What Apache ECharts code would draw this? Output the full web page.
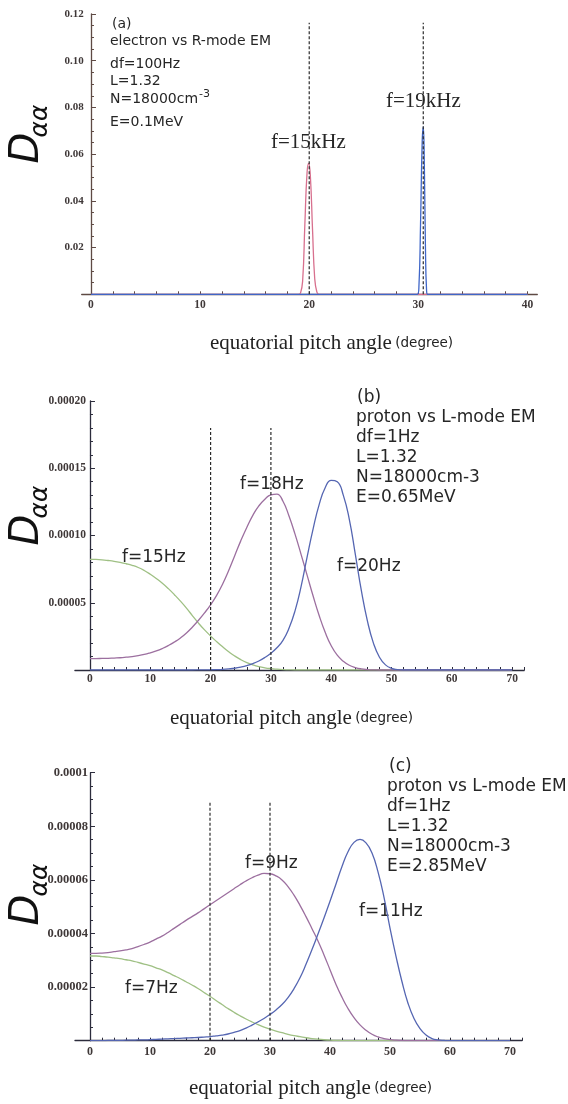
<!DOCTYPE html>
<html>
<head>
<meta charset="utf-8">
<title>D_aa vs equatorial pitch angle</title>
<script src="https://cdn.jsdelivr.net/npm/echarts@6/dist/echarts.min.js"></script>
<style>
  html, body { margin: 0; padding: 0; background: #ffffff; }
  #chart { width: 568px; height: 1104px; }
</style>
</head>
<body>
<div id="chart"></div>
<script>
// ---- panel (a): electron vs R-mode EM, two narrow peaks ----
const aX15k = [0, 19.0, 19.2, 19.4, 19.6, 19.8, 19.95, 20.1, 20.3, 20.5, 20.7, 20.9, 40]
const aY15k = [0, 0, 0.0005, 0.006, 0.030, 0.052, 0.056, 0.051, 0.028, 0.007, 0.001, 0, 0]
const aX19k = [0, 29.9, 30.05, 30.2, 30.35, 30.45, 30.55, 30.65, 30.75, 30.85, 40]
const aY19k = [0, 0, 0.003, 0.030, 0.065, 0.0717, 0.055, 0.020, 0.002, 0, 0]
const aMarks = [20.0, 30.45]
const aMarkTop = 0.1163
const aXLabels = [0, 10, 20, 30, 40]

// ---- panel (b): proton vs L-mode EM, E=0.65MeV ----
const bX = [0, 1, 2, 3, 4, 5, 6, 7, 8, 9, 10, 11, 12, 13, 14, 15, 16, 17, 18, 19, 20,
  21, 22, 23, 24, 25, 26, 27, 28, 29, 30, 31, 32, 33, 34, 35, 36, 37, 38, 39, 40,
  41, 42, 43, 44, 45, 46, 47, 48, 49, 50, 51, 52, 53, 54, 55, 60, 65, 70]
const b15 = [82.3e-6, 82.2e-6, 81.9e-6, 81.4e-6, 80.8e-6, 80.0e-6, 79.0e-6, 77.8e-6, 76.2e-6, 74.0e-6,
  71.2e-6, 68.0e-6, 64.5e-6, 60.5e-6, 56.0e-6, 51.2e-6, 46.0e-6, 40.3e-6, 34.8e-6, 29.8e-6,
  25.3e-6, 21.1e-6, 17.2e-6, 13.6e-6, 10.4e-6, 7.7e-6, 5.5e-6, 3.8e-6, 2.5e-6, 1.6e-6,
  1.0e-6, 0.6e-6, 0.3e-6, 0.1e-6, 0, 0, 0, 0, 0, 0,
  0, 0, 0, 0, 0, 0, 0, 0, 0, 0, 0, 0, 0, 0, 0, 0, 0, 0, 0]
const b18 = [8.5e-6, 8.5e-6, 8.6e-6, 8.7e-6, 8.9e-6, 9.1e-6, 9.5e-6, 10.0e-6, 10.7e-6, 11.6e-6,
  12.8e-6, 14.2e-6, 16.0e-6, 18.2e-6, 20.8e-6, 23.8e-6, 27.5e-6, 32.0e-6, 37.0e-6, 42.5e-6,
  48.5e-6, 55.5e-6, 64.0e-6, 74.0e-6, 85.0e-6, 96.0e-6, 106.0e-6, 115.0e-6, 122.0e-6, 127.0e-6,
  130.2e-6, 130.8e-6, 125.5e-6, 114.5e-6, 101.0e-6, 86.0e-6, 70.5e-6, 55.0e-6, 40.5e-6, 28.0e-6,
  18.0e-6, 11.0e-6, 6.5e-6, 3.5e-6, 1.8e-6, 0.8e-6, 0.3e-6, 0.1e-6, 0, 0,
  0, 0, 0, 0, 0, 0, 0, 0, 0]
const b20 = [0, 0, 0, 0, 0, 0, 0, 0, 0, 0,
  0, 0, 0, 0, 0, 0, 0, 0, 0.05e-6, 0.1e-6,
  0.15e-6, 0.25e-6, 0.45e-6, 0.8e-6, 1.3e-6, 2.1e-6, 3.2e-6, 4.7e-6, 6.7e-6, 9.3e-6,
  12.5e-6, 16.5e-6, 22.0e-6, 31.0e-6, 44.0e-6, 62.0e-6, 84.0e-6, 105.0e-6, 123.0e-6, 135.5e-6,
  141.0e-6, 140.0e-6, 130.0e-6, 112.0e-6, 86.0e-6, 59.0e-6, 36.5e-6, 20.0e-6, 9.5e-6, 3.8e-6,
  1.2e-6, 0.3e-6, 0, 0, 0, 0, 0, 0, 0]
const bMarks = [20.0, 30.0]
const bMarkTop = 0.00018
const bXLabels = [0, 10, 20, 30, 40, 50, 60, 70]

// ---- panel (c): proton vs L-mode EM, E=2.85MeV ----
const cX = [0, 1, 2, 3, 4, 5, 6, 7, 8, 9, 10, 11, 12, 13, 14, 15, 16, 17, 18, 19, 20,
  21, 22, 23, 24, 25, 26, 27, 28, 29, 30, 31, 32, 33, 34, 35, 36, 37, 38, 39, 40,
  41, 42, 43, 44, 45, 46, 47, 48, 49, 50, 51, 52, 53, 54, 55, 56, 57, 58, 59, 60, 65, 70]
const c7 = [31.6e-6, 31.6e-6, 31.4e-6, 31.2e-6, 30.9e-6, 30.6e-6, 30.2e-6, 29.8e-6, 29.2e-6, 28.6e-6,
  28.0e-6, 27.2e-6, 26.4e-6, 25.4e-6, 24.3e-6, 23.2e-6, 22.0e-6, 20.8e-6, 19.5e-6, 18.0e-6,
  16.6e-6, 15.0e-6, 13.5e-6, 12.0e-6, 10.6e-6, 9.3e-6, 8.1e-6, 7.0e-6, 6.0e-6, 5.1e-6,
  4.3e-6, 3.6e-6, 3.0e-6, 2.4e-6, 1.9e-6, 1.5e-6, 1.1e-6, 0.8e-6, 0.55e-6, 0.35e-6,
  0.2e-6, 0.1e-6, 0.05e-6, 0, 0, 0, 0, 0, 0, 0,
  0, 0, 0, 0, 0, 0, 0, 0, 0, 0, 0, 0, 0]
const c9 = [32.6e-6, 32.6e-6, 32.7e-6, 32.9e-6, 33.2e-6, 33.5e-6, 33.9e-6, 34.4e-6, 35.1e-6, 35.9e-6,
  36.8e-6, 37.9e-6, 39.0e-6, 40.4e-6, 41.9e-6, 43.4e-6, 44.9e-6, 46.3e-6, 47.7e-6, 49.2e-6,
  50.7e-6, 52.2e-6, 53.7e-6, 55.2e-6, 56.7e-6, 58.2e-6, 59.6e-6, 60.8e-6, 61.8e-6, 62.4e-6,
  62.3e-6, 61.5e-6, 60.0e-6, 57.5e-6, 54.3e-6, 50.5e-6, 46.3e-6, 41.8e-6, 37.2e-6, 32.0e-6,
  26.5e-6, 21.0e-6, 16.2e-6, 12.0e-6, 8.6e-6, 5.9e-6, 3.9e-6, 2.4e-6, 1.4e-6, 0.8e-6,
  0.4e-6, 0.2e-6, 0.1e-6, 0, 0, 0, 0, 0, 0, 0, 0, 0, 0]
const c11 = [0, 0, 0, 0.1e-6, 0.1e-6, 0.1e-6, 0.2e-6, 0.2e-6, 0.3e-6, 0.3e-6,
  0.4e-6, 0.5e-6, 0.6e-6, 0.7e-6, 0.8e-6, 0.9e-6, 1.0e-6, 1.1e-6, 1.2e-6, 1.35e-6,
  1.5e-6, 1.8e-6, 2.1e-6, 2.5e-6, 3.1e-6, 3.8e-6, 4.7e-6, 5.8e-6, 7.0e-6, 8.3e-6,
  9.8e-6, 11.5e-6, 13.5e-6, 16.1e-6, 19.4e-6, 23.5e-6, 28.5e-6, 34.0e-6, 39.8e-6, 45.8e-6,
  52.0e-6, 58.5e-6, 65.0e-6, 70.5e-6, 74.0e-6, 75.1e-6, 73.8e-6, 70.0e-6, 63.0e-6, 53.5e-6,
  42.0e-6, 31.5e-6, 22.0e-6, 14.0e-6, 8.3e-6, 4.5e-6, 2.1e-6, 0.8e-6, 0.3e-6, 0.1e-6,
  0, 0, 0]
const cMarks = [20.0, 30.0]
const cMarkTop = 0.0000892
const cXLabels = [0, 10, 20, 30, 40, 50, 60, 70]

const GREEN = '#9fc084'
const MAUVE = '#9c6f9f'
const BLUE = '#5566b2'
const SERIF = '"Liberation Serif", "DejaVu Serif", serif'
const SANS = '"DejaVu Sans", sans-serif'

function minorTicks(max) {
  const out = []
  for (let v = 0; v <= max; v += 2) out.push(v)
  return out
}

function pairs(xs, ys) {
  return xs.map((x, i) => [x, ys[i]])
}

function curve(idx, xs, ys, color) {
  return {
    type: 'line', xAxisIndex: idx, yAxisIndex: idx,
    data: pairs(xs, ys),
    showSymbol: false, symbol: 'none', smooth: 0.5,
    lineStyle: { color, width: 1.3 },
    silent: true, animation: false, z: 3,
  }
}

function marks(idx, xs, top) {
  return xs.map((x) => ({
    type: 'line', xAxisIndex: idx, yAxisIndex: idx,
    data: [[x, 0], [x, top]],
    showSymbol: false, symbol: 'none',
    lineStyle: { color: '#2a2a2a', width: 1.2, type: [3, 2] },
    silent: true, animation: false, z: 4,
  }))
}

function xAxisFor(idx, min, max, labels, axisColor, fontSize, margin) {
  return {
    type: 'value', gridIndex: idx, min, max,
    axisLine: { show: true, lineStyle: { color: axisColor, width: 1.3 } },
    axisTick: { show: true, inside: true, length: 3, customValues: minorTicks(max),
      lineStyle: { color: axisColor, width: 1 } },
    axisLabel: { customValues: labels, margin, fontFamily: SERIF, fontWeight: 'bold',
      fontSize, color: '#3f3838' },
    splitLine: { show: false },
  }
}

// labels stay at the grid edge while the line sits on x=0, so margin may be negative
function yAxisFor(idx, max, interval, minorSplit, axisColor, fontSize, margin, fmt) {
  return {
    type: 'value', gridIndex: idx, min: 0, max, interval,
    axisLine: { show: true, onZero: true, lineStyle: { color: axisColor, width: 1.3 } },
    axisTick: { show: true, inside: true, length: 5, lineStyle: { color: axisColor, width: 1 } },
    minorTick: { show: true, splitNumber: minorSplit, length: 3, lineStyle: { color: axisColor, width: 1 } },
    axisLabel: { margin, fontFamily: SERIF, fontWeight: 'bold', fontSize, color: '#3f3838', formatter: fmt },
    splitLine: { show: false },
  }
}

function label(x, y, text, font, extra) {
  return {
    type: 'text', x, y, silent: true,
    style: Object.assign({ text, font, fill: '#262626', align: 'left', verticalAlign: 'middle' }, extra || {}),
  }
}

function yName(xD, yD, xA, yA) {
  return [
    { type: 'text', x: xD, y: yD, rotation: Math.PI / 2, silent: true,
      style: { text: 'D', font: 'italic 40px ' + SANS, fill: '#111', align: 'center', verticalAlign: 'middle' } },
    { type: 'text', x: xA, y: yA, rotation: Math.PI / 2, silent: true,
      style: { text: 'αα', font: 'italic 25px ' + SANS, fill: '#111', align: 'center', verticalAlign: 'middle' } },
  ]
}

function xName(x, y) {
  return {
    type: 'text', x, y, silent: true,
    style: {
      text: '{m|equatorial pitch angle} {d|(degree)}',
      align: 'left', verticalAlign: 'middle',
      rich: {
        m: { font: '21px ' + SERIF, fill: '#222' },
        d: { font: '13.5px ' + SANS, fill: '#222' },
      },
    },
  }
}

const chart = echarts.init(document.getElementById('chart'), null, { renderer: 'canvas' })

chart.setOption({
  backgroundColor: '#ffffff',
  animation: false,
  grid: [
    { left: 81.7, top: 14, width: 455.6, height: 280.3 },
    { left: 74.9, top: 401, width: 449.3, height: 269 },
    { left: 75, top: 772.7, width: 447, height: 268 },
  ],
  xAxis: [
    xAxisFor(0, -0.85, 40.9, aXLabels, '#5e4a44', 11.5, 5),
    xAxisFor(1, -2.5, 72, bXLabels, '#2c2c3c', 11.5, 3),
    xAxisFor(2, -2.5, 72, cXLabels, '#2c2c3c', 12, 5),
  ],
  yAxis: [
    yAxisFor(0, 0.12, 0.02, 4, '#5e4a44', 11, -2, (v) => (v === 0 ? '' : v.toFixed(2))),
    yAxisFor(1, 0.0002, 0.00005, 5, '#2c2c3c', 11.5, -11, (v) => (v === 0 ? '' : v.toFixed(5))),
    yAxisFor(2, 0.0001, 0.00002, 4, '#2c2c3c', 12.5, -13, (v) => (v === 0 ? '' : String(parseFloat(v.toFixed(6))))),
  ],
  series: [
    curve(0, aX15k, aY15k, '#d8708e'),
    curve(0, aX19k, aY19k, '#3f66c8'),
    ...marks(0, aMarks, aMarkTop),
    curve(1, bX, b15, GREEN),
    curve(1, bX, b18, MAUVE),
    curve(1, bX, b20, BLUE),
    ...marks(1, bMarks, bMarkTop),
    curve(2, cX, c7, GREEN),
    curve(2, cX, c9, MAUVE),
    curve(2, cX, c11, BLUE),
    ...marks(2, cMarks, cMarkTop),
  ],
  graphic: [
    // panel (a)
    ...yName(28, 148, 40, 121),
    label(112, 24, '(a)', '14px ' + SANS),
    label(110, 41, 'electron vs R-mode EM', '14px ' + SANS),
    label(110, 64, 'df=100Hz', '14px ' + SANS),
    label(110, 81, 'L=1.32', '14px ' + SANS),
    label(110, 99, 'N=18000cm{s|-3}', '14px ' + SANS, { rich: { s: { font: '11px ' + SANS, fill: '#262626', padding: [0, 0, 10, 1] } } }),
    label(110, 122, 'E=0.1MeV', '14px ' + SANS),
    label(271, 142, 'f=15kHz', '21px ' + SERIF),
    label(386, 101, 'f=19kHz', '21px ' + SERIF),
    xName(210, 343),
    // panel (b)
    ...yName(28, 530, 40, 502),
    label(357, 398, '(b)', '17px ' + SANS),
    label(356, 418, 'proton vs L-mode EM', '17px ' + SANS),
    label(356, 438, 'df=1Hz', '17px ' + SANS),
    label(356, 458, 'L=1.32', '17px ' + SANS),
    label(356, 478, 'N=18000cm-3', '17px ' + SANS),
    label(356, 498, 'E=0.65MeV', '17px ' + SANS),
    label(240, 485, 'f=18Hz', '17px ' + SANS),
    label(122, 558, 'f=15Hz', '17px ' + SANS),
    label(337, 567, 'f=20Hz', '17px ' + SANS),
    xName(170, 718),
    // panel (c)
    ...yName(28, 910, 40, 880),
    label(389, 767, '(c)', '17px ' + SANS),
    label(387, 787, 'proton vs L-mode EM', '17px ' + SANS),
    label(387, 807, 'df=1Hz', '17px ' + SANS),
    label(387, 827, 'L=1.32', '17px ' + SANS),
    label(387, 847, 'N=18000cm-3', '17px ' + SANS),
    label(387, 867, 'E=2.85MeV', '17px ' + SANS),
    label(245, 864, 'f=9Hz', '17px ' + SANS),
    label(125, 989, 'f=7Hz', '17px ' + SANS),
    label(359, 912, 'f=11Hz', '17px ' + SANS),
    xName(189, 1088),
  ],
})
</script>
</body>
</html>
